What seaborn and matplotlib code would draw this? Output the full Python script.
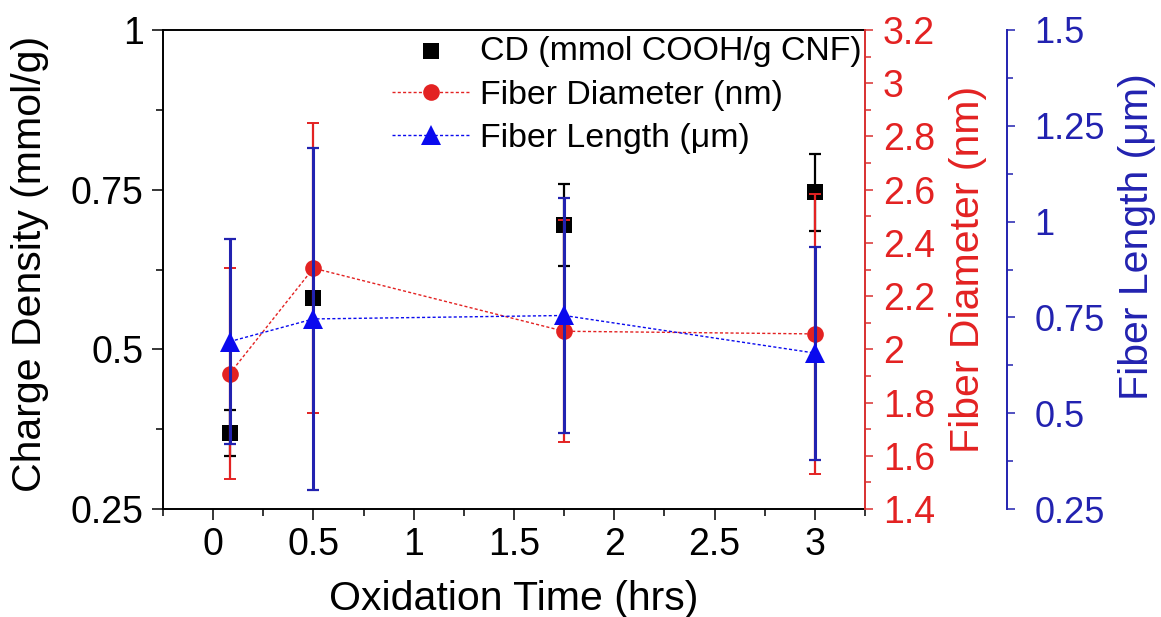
import matplotlib
matplotlib.use("Agg")
import matplotlib.pyplot as plt
from matplotlib.ticker import MultipleLocator, FixedLocator
import seaborn as sns
import pandas as pd

# Oxidation time (hrs)
time_hrs = [0.083, 0.5, 1.75, 3.0]

# Charge density (mmol COOH / g CNF)
charge_density = [0.369, 0.581, 0.695, 0.746]
charge_density_err = [0.036, 0.008, 0.064, 0.060]

# Fiber diameter (nm)
fiber_diameter = [1.909, 2.305, 2.068, 2.058]
fiber_diameter_err = [0.397, 0.546, 0.418, 0.527]

# Fiber length (um)
fiber_length = [0.687, 0.746, 0.755, 0.657]
fiber_length_err = [0.268, 0.446, 0.306, 0.278]

x_ticks = [0, 0.5, 1, 1.5, 2, 2.5, 3]
cd_ticks = [0.25, 0.5, 0.75, 1]
diam_ticks = [1.4, 1.6, 1.8, 2.0, 2.2, 2.4, 2.6, 2.8, 3.0, 3.2]
len_ticks = [0.25, 0.5, 0.75, 1.0, 1.25, 1.5]

df = pd.DataFrame({
    "time": time_hrs,
    "cd": charge_density,
    "diam": fiber_diameter,
    "len": fiber_length,
})

sns.set_theme(style="ticks")
plt.rcParams["font.family"] = ["Liberation Sans", "DejaVu Sans"]
plt.rcParams["text.color"] = "black"
plt.rcParams["axes.labelcolor"] = "black"
plt.rcParams["xtick.color"] = "black"
plt.rcParams["ytick.color"] = "black"

RED = "#e32222"
RED_AX = "#d83030"
BLUE = "#0a0aee"
BLUE_AX = "#2222b0"

TICK_FS = 27
LABEL_FS = 29.5

fig = plt.figure(figsize=(11.61, 6.17), dpi=100)
ax = fig.add_axes([0.1404, 0.1750, 0.6046, 0.7764])
ax2 = ax.twinx()
ax3 = ax.twinx()

# --- Charge density (left axis) ---
ax.errorbar(df["time"], df["cd"], yerr=charge_density_err, fmt="none",
            ecolor="black", elinewidth=1.6, capsize=4, capthick=1.6)
sns.scatterplot(data=df, x="time", y="cd", ax=ax, marker="s", s=120,
                color="black", edgecolor="black", linewidth=0, legend=False)
cd_handle = ax.collections[-1]

# --- Fiber diameter (red axis) ---
ax2.errorbar(df["time"], df["diam"], yerr=fiber_diameter_err, fmt="none",
             ecolor=RED, elinewidth=1.6, capsize=4, capthick=1.4)
sns.lineplot(data=df, x="time", y="diam", ax=ax2, sort=False, color=RED,
             marker="o", markersize=12, markeredgewidth=0,
             linestyle=(0, (2.2, 1.6)), linewidth=1.0, legend=False)
diam_handle = ax2.get_lines()[-1]

# --- Fiber length (blue axis) ---
ax3.errorbar(df["time"], df["len"], yerr=fiber_length_err, fmt="none",
             ecolor=BLUE_AX, elinewidth=2.2, capsize=4, capthick=1.6)
sns.lineplot(data=df, x="time", y="len", ax=ax3, sort=False, color=BLUE,
             marker="^", markersize=14, markeredgewidth=0,
             linestyle=(0, (2.2, 1.6)), linewidth=1.0, legend=False)
len_handle = ax3.get_lines()[-1]

# --- Axis limits and ticks ---
ax.set_xlim(-0.25, 3.25)
ax.set_ylim(0.25, 1.0)
ax2.set_ylim(1.4, 3.2)
ax3.set_ylim(0.25, 1.5)

ax.xaxis.set_major_locator(FixedLocator(x_ticks))
ax.xaxis.set_minor_locator(MultipleLocator(0.25))
ax.set_xticklabels([f"{v:g}" for v in x_ticks])
ax.yaxis.set_major_locator(FixedLocator(cd_ticks))
ax.yaxis.set_minor_locator(MultipleLocator(0.125))
ax.set_yticklabels([f"{v:g}" for v in cd_ticks])
ax2.yaxis.set_major_locator(FixedLocator(diam_ticks))
ax2.yaxis.set_minor_locator(MultipleLocator(0.1))
ax2.set_yticklabels([f"{v:g}" for v in diam_ticks])
ax3.yaxis.set_major_locator(FixedLocator(len_ticks))
ax3.yaxis.set_minor_locator(MultipleLocator(0.125))
ax3.set_yticklabels([f"{v:g}" for v in len_ticks])

ax.tick_params(axis="both", which="major", direction="out", length=8,
               width=1.1, labelsize=TICK_FS, colors="black", pad=5)
ax.tick_params(axis="both", which="minor", direction="out", length=5,
               width=1.1, colors="black")
ax.tick_params(axis="y", which="major", pad=6)

ax2.tick_params(axis="y", which="major", direction="out", length=6, width=1.1,
                labelsize=TICK_FS, colors=RED_AX, labelcolor=RED, pad=7)
ax2.tick_params(axis="y", which="minor", direction="out", length=4, width=1.1,
                colors=RED_AX)
ax3.tick_params(axis="y", which="major", direction="out", length=6, width=1.1,
                labelsize=26, colors=BLUE_AX, labelcolor=BLUE_AX, pad=14)
ax3.tick_params(axis="y", which="minor", direction="out", length=4, width=1.1,
                colors=BLUE_AX)

# --- Spines ---
for s in ("left", "top", "bottom"):
    ax.spines[s].set_color("black")
    ax.spines[s].set_linewidth(1.4)
ax.spines["right"].set_visible(False)

for s in ("left", "top", "bottom"):
    ax2.spines[s].set_visible(False)
    ax3.spines[s].set_visible(False)
ax2.spines["right"].set_color(RED_AX)
ax2.spines["right"].set_linewidth(1.4)
ax3.spines["right"].set_position(("axes", 1.202))
ax3.spines["right"].set_color(BLUE_AX)
ax3.spines["right"].set_linewidth(1.4)

# --- Axis labels ---
ax.set_xlabel("Oxidation Time (hrs)", fontsize=LABEL_FS, color="black", labelpad=12)
ax.set_ylabel("Charge Density (mmol/g)", fontsize=LABEL_FS, color="black")
ax2.set_ylabel("Fiber Diameter (nm)", fontsize=LABEL_FS, color=RED)
ax3.set_ylabel("Fiber Length (\u03bcm)", fontsize=LABEL_FS, color=BLUE_AX)

ax.yaxis.set_label_coords(-0.1895, 0.5125)
ax2.yaxis.set_label_coords(1.1467, 0.501)
ax3.yaxis.set_label_coords(1.3875, 0.568)
for a in (ax, ax2, ax3):
    a.yaxis.label.set_verticalalignment("center")

# --- Legend ---
leg = ax3.legend([cd_handle, diam_handle, len_handle],
                 ["CD (mmol COOH/g CNF)", "Fiber Diameter (nm)",
                  "Fiber Length (\u03bcm)"],
                 loc="upper left", bbox_to_anchor=(392 / 1161, 1 - 36 / 617),
                 bbox_transform=fig.transFigure, frameon=False,
                 fontsize=24.4, borderpad=0, borderaxespad=0,
                 handlelength=2.3, handletextpad=0.3, labelspacing=0.37,
                 markerscale=1.0)
for t in leg.get_texts():
    t.set_color("black")

fig.savefig("out.png", dpi=100)
